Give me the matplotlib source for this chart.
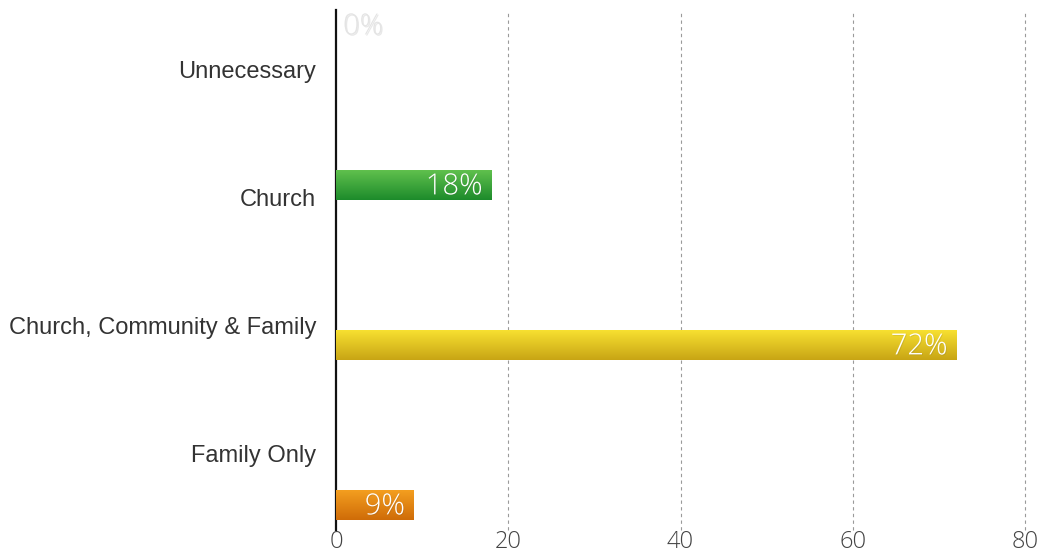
import numpy as np
import matplotlib.pyplot as plt
from matplotlib.colors import LinearSegmentedColormap
import matplotlib.patheffects as pe

categories = ['Unnecessary', 'Church', 'Church, Community & Family', 'Family Only']
values = [0, 18, 72, 9]
value_labels = ['0%', '18%', '72%', '9%']
xticks = [0, 20, 40, 60, 80]

# top / bottom colours of each bar's gradient
bar_colors = [('#ffffff', '#ffffff'),
              ('#62c24e', '#1d8b2b'),
              ('#f9e232', '#c8a514'),
              ('#f5a020', '#cf6c08')]

fig = plt.figure(figsize=(10.47, 5.56), dpi=100)
ax = fig.add_axes([336/1047, 1 - 530/556, 689/1047, 520/556])

bar_h = 0.19
bar_pos = np.arange(len(categories))          # bar centres
label_pos = 0.294 + 0.8*np.arange(len(categories))  # category labels sit off the bars

ax.set_xlim(0, 80)
ax.set_ylim(3.156, -0.094)

for i, (v, (c1, c2)) in enumerate(zip(values, bar_colors)):
    if v <= 0:
        continue
    bars = ax.barh(bar_pos[i], v, height=bar_h, color=c2, edgecolor='none', zorder=2)
    cmap = LinearSegmentedColormap.from_list('g%d' % i, [c1, c2])
    grad = np.linspace(0, 1, 100).reshape(-1, 1)
    y0 = bar_pos[i] - bar_h/2
    im = ax.imshow(grad, cmap=cmap, aspect='auto', zorder=3,
                   extent=(0, v, bar_pos[i] + bar_h/2, y0), origin='upper')
    im.set_clip_path(bars[0])
    ax.text(v - 1.0, bar_pos[i] + 0.01, value_labels[i], ha='right', va='center',
            color='white', fontsize=21, family='Open Sans', weight='light', zorder=4,
            path_effects=[pe.withSimplePatchShadow(offset=(0.6, -0.6), alpha=0.15)])

# the zero bar just gets a faint label
ax.text(0.8, bar_pos[0] + 0.01, value_labels[0], ha='left', va='center',
        color='#e4e4e4', fontsize=21, family='Open Sans', weight='light', zorder=4,
        path_effects=[pe.withSimplePatchShadow(offset=(0.8, -0.8), alpha=0.12)])

for i, cat in enumerate(categories):
    ax.text(-2.3, label_pos[i], cat, ha='right', va='center', color='#333333',
            fontsize=17, family='Liberation Sans')

ax.set_xticks(xticks)
ax.set_xticklabels([str(t) for t in xticks], family='Open Sans', weight='light',
                   fontsize=17, color='#444444')
ax.set_yticks([])
ax.tick_params(axis='x', length=0, pad=0)
for t in xticks[1:]:
    ax.axvline(t, color='#9a9a9a', lw=0.8, ls=(0, (3, 3)), zorder=1, clip_on=False)

for s in ['top', 'right', 'bottom']:
    ax.spines[s].set_visible(False)
ax.spines['left'].set_linewidth(1.6)
ax.spines['left'].set_color('#111111')

fig.savefig('out.png', dpi=100)
